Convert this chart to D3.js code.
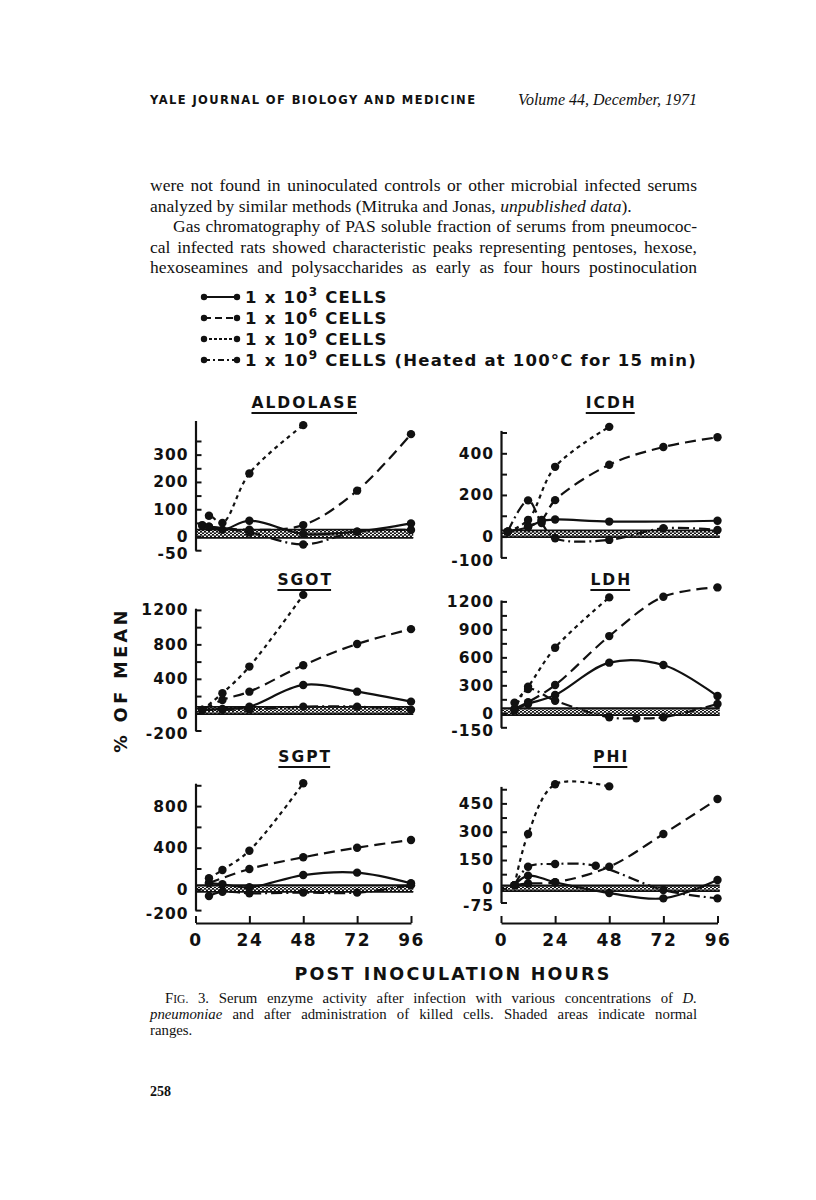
<!DOCTYPE html>
<html>
<head>
<meta charset="utf-8">
<title>Serum enzyme activity</title>
<script src="https://cdn.jsdelivr.net/npm/d3@7/dist/d3.min.js"></script>
<style>
  body { margin: 0; background: #fff; }
  svg { display: block; }
</style>
</head>
<body>
<div id="page"></div>
<script>
// ---- page text ----
const headerLeft = "YALE JOURNAL OF BIOLOGY AND MEDICINE";
const headerRight = "Volume 44, December, 1971";
const bodyLines = [
    "were not found in uninoculated controls or other microbial infected serums",
    "analyzed by similar methods (Mitruka and Jonas, *unpublished data*).",
    "Gas chromatography of PAS soluble fraction of serums from pneumococ-",
    "cal infected rats showed characteristic peaks representing pentoses, hexose,",
    "hexoseamines and polysaccharides as early as four hours postinoculation"
];
const captionLines = [
    "F~IG.~ 3. Serum enzyme activity after infection with various concentrations of *D.*",
    "*pneumoniae* and after administration of killed cells. Shaded areas indicate normal",
    "ranges."
];
const pageNumber = "258";

// ---- legend ----
const seriesKeys = ["c3", "c6", "c9", "heat"];
const legendExponents = ["3", "6", "9", "9"];
const legendNotes = ["", "", "", "(Heated at 100°C for 15 min)"];

// ---- axes ----
const hourTicks = [0, 24, 48, 72, 96];
const xAxisTitle = "POST INOCULATION HOURS";
const yAxisTitle = "% OF MEAN";

// ---- data: [hours, % of mean] ----
const aldolase1e3 = [[3, 42], [12, 25], [24, 58], [48, 10], [72, 18], [96, 48]];
const aldolase1e6 = [[6, 36], [24, 25], [48, 42], [72, 168], [96, 375]];
const aldolase1e9 = [[3, 40], [6, 76], [12, 50], [24, 231], [48, 408]];
const aldolaseHeat = [[6, 36], [24, 15], [48, -29], [72, 18], [96, 24]];
const aldolaseNormal = [-5, 25];

const icdh1e3 = [[3, 24], [12, 45], [18, 75], [24, 82], [48, 72], [96, 76]];
const icdh1e6 = [[3, 24], [12, 50], [18, 80], [24, 175], [48, 345], [72, 430], [96, 477]];
const icdh1e9 = [[3, 24], [12, 80], [24, 335], [48, 527]];
const icdhHeat = [[3, 24], [12, 174], [18, 65], [24, -8], [48, -16], [72, 40], [96, 32]];
const icdhNormal = [-3, 30];

const sgot1e3 = [[3, 40], [12, 50], [24, 77], [48, 329], [72, 251], [96, 135]];
const sgot1e6 = [[3, 40], [12, 155], [24, 251], [48, 558], [72, 805], [96, 977]];
const sgot1e9 = [[3, 40], [12, 232], [24, 542], [48, 1375]];
const sgotHeat = [[3, 40], [12, 40], [24, 45], [48, 77], [72, 77], [96, 40]];
const sgotNormal = [-10, 75];

const ldh1e3 = [[6, 40], [12, 100], [24, 196], [48, 543], [72, 518], [96, 185]];
const ldh1e6 = [[6, 50], [12, 120], [24, 303], [48, 828], [72, 1250], [96, 1350]];
const ldh1e9 = [[6, 114], [12, 285], [24, 703], [48, 1243]];
const ldhHeat = [[6, 30], [12, 260], [24, 135], [48, -43], [60, -54], [72, -43], [96, 100]];
const ldhNormal = [-20, 55];

const sgpt1e3 = [[6, 60], [12, 48], [24, 20], [48, 137], [72, 160], [96, 58]];
const sgpt1e6 = [[6, 60], [24, 195], [48, 308], [72, 400], [96, 474]];
const sgpt1e9 = [[6, 106], [12, 186], [24, 371], [48, 1019]];
const sgptHeat = [[6, -64], [12, -23], [24, -38], [48, -32], [72, -32], [96, 40]];
const sgptNormal = [-25, 40];

const phi1e3 = [[6, 17], [12, 67], [24, 32], [48, -25], [72, -53], [96, 44]];
const phi1e6 = [[6, 17], [12, 26], [24, 32], [48, 114], [72, 288], [96, 473]];
const phi1e9 = [[6, 17], [12, 288], [24, 551], [48, 540]];
const phiHeat = [[6, 17], [12, 114], [24, 129], [42, 120], [72, -9], [96, -53]];
const phiNormal = [-15, 15];

// ---- layout ----
const W = 816, H = 1200;
const ink = "#111";
const serif = "'Liberation Serif', 'DejaVu Serif', serif";
const sans = "'DejaVu Sans', 'Liberation Sans', sans-serif";
const colRange = [[195.5, 411], [501, 717.5]];   // pixel of 0 h and 96 h
const xAxisY = 923;
const dashes = { c3: null, c6: "11,6", c9: "4,4", heat: "11,4,2,4" };
const legendDashes = { c3: null, c6: "7,4", c9: "3,2", heat: "6,3,2,3" };

const panels = [
    { title: "ALDOLASE", col: 0, dom: [-50, 425], px: [550.2, 420.5], step: 50, top: 350,
      labels: [300, 200, 100, 0, -50], band: aldolaseNormal, titleY: 408,
      series: { c3: aldolase1e3, c6: aldolase1e6, c9: aldolase1e9, heat: aldolaseHeat } },
    { title: "ICDH", col: 1, dom: [-100, 510], px: [557.4, 430.4], step: 100, top: 500,
      labels: [400, 200, 0, -100], band: icdhNormal, titleY: 408,
      series: { c3: icdh1e3, c6: icdh1e6, c9: icdh1e9, heat: icdhHeat } },
    { title: "SGOT", col: 0, dom: [-200, 1220], px: [730.5, 608.2], step: 200, top: 1200,
      labels: [1200, 800, 400, 0, -200], band: sgotNormal, titleY: 585,
      series: { c3: sgot1e3, c6: sgot1e6, c9: sgot1e9, heat: sgotHeat } },
    { title: "LDH", col: 1, dom: [-150, 1215], px: [727.3, 600], step: 150, top: 1200,
      labels: [1200, 900, 600, 300, 0, -150], band: ldhNormal, titleY: 585,
      series: { c3: ldh1e3, c6: ldh1e6, c9: ldh1e9, heat: ldhHeat } },
    { title: "SGPT", col: 0, dom: [-200, 1020], px: [910.1, 783.2], step: 200, top: 1000,
      labels: [800, 400, 0, -200], band: sgptNormal, titleY: 762, xAxis: true,
      series: { c3: sgpt1e3, c6: sgpt1e6, c9: sgpt1e9, heat: sgptHeat } },
    { title: "PHI", col: 1, dom: [-75, 540], px: [902.5, 786.4], step: 75, top: 525,
      labels: [450, 300, 150, 0, -75], band: phiNormal, titleY: 762, xAxis: true,
      series: { c3: phi1e3, c6: phi1e6, c9: phi1e9, heat: phiHeat } }
];

const svg = d3.select("#page").append("svg")
    .attr("width", W)
    .attr("height", H);

svg.append("rect").attr("width", W).attr("height", H).attr("fill", "#fff");

// stipple pattern for the normal ranges
const pat = svg.append("defs").append("pattern")
    .attr("id", "stipple")
    .attr("width", 4).attr("height", 3)
    .attr("patternUnits", "userSpaceOnUse");
pat.append("rect").attr("width", 4).attr("height", 3).attr("fill", "#fff");
pat.append("circle").attr("cx", 1).attr("cy", 0.8).attr("r", 1.1).attr("fill", ink);
pat.append("circle").attr("cx", 3).attr("cy", 2.3).attr("r", 1.1).attr("fill", ink);

// ---- running text ----
function parseWords(line) {
    let italic = false, small = false;
    return line.split(" ").filter(w => w.length).map(w => {
        const segs = [];
        let cur = "";
        for (const ch of w) {
            if (ch === "*" || ch === "~") {
                if (cur) segs.push({ t: cur, italic, small });
                cur = "";
                if (ch === "*") italic = !italic; else small = !small;
            } else {
                cur += ch;
            }
        }
        if (cur) segs.push({ t: cur, italic, small });
        return segs;
    });
}

function textLine(line, x0, x1, y, size, justify) {
    const words = parseWords(line);
    const g = svg.append("g")
        .attr("font-family", serif)
        .attr("font-size", size)
        .attr("fill", ink);
    const nodes = words.map(segs => {
        const t = g.append("text").attr("y", y);
        segs.forEach(s => {
            t.append("tspan")
                .attr("font-style", s.italic ? "italic" : null)
                .attr("font-size", s.small ? size * 0.78 : null)
                .text(s.t);
        });
        return t;
    });
    const widths = nodes.map(n => n.node().getComputedTextLength());
    const gap = justify ? (x1 - x0 - d3.sum(widths)) / (words.length - 1) : size * 0.26;
    let x = x0;
    nodes.forEach((n, i) => {
        n.attr("x", x);
        x += widths[i] + gap;
    });
}

svg.append("text")
    .attr("x", 150).attr("y", 104)
    .attr("font-family", sans).attr("font-weight", "bold")
    .attr("font-size", 11.5).attr("fill", ink)
    .attr("textLength", 325).attr("lengthAdjust", "spacing")
    .text(headerLeft);

svg.append("text")
    .attr("x", 697).attr("y", 105)
    .attr("text-anchor", "end")
    .attr("font-family", serif).attr("font-style", "italic")
    .attr("font-size", 16).attr("fill", ink)
    .text(headerRight);

bodyLines.forEach((line, i) => {
    textLine(line, i === 2 ? 173 : 150, 697, 191 + i * 20.5, 17.5, i !== 1);
});

captionLines.forEach((line, i) => {
    textLine(line, i === 0 ? 165 : 150, 697, 1003 + i * 16, 14.8, i < 2);
});

svg.append("text")
    .attr("x", 150).attr("y", 1096)
    .attr("font-family", serif).attr("font-weight", "bold")
    .attr("font-size", 14).attr("fill", ink)
    .text(pageNumber);

// ---- legend ----
const legendY = [297, 318, 339, 360];
const legendTexts = [];
seriesKeys.forEach((k, i) => {
    const y = legendY[i];
    svg.append("line")
        .attr("x1", 204).attr("x2", 237).attr("y1", y).attr("y2", y)
        .attr("stroke", ink).attr("stroke-width", 2)
        .attr("stroke-dasharray", legendDashes[k]);
    [204, 237].forEach(cx => svg.append("circle")
        .attr("cx", cx).attr("cy", y).attr("r", 3.2).attr("fill", ink));
    const t = svg.append("text")
        .attr("x", 245).attr("y", y + 6)
        .attr("font-family", sans).attr("font-weight", "bold")
        .attr("font-size", 16.5).attr("fill", ink);
    t.append("tspan").text("1 x 10");
    t.append("tspan").attr("font-size", 12).attr("dy", -7).text(legendExponents[i]);
    t.append("tspan").attr("dy", 7).text(" CELLS" + (legendNotes[i] ? " " + legendNotes[i] : ""));
    legendTexts.push(t);
});
// stretch letter spacing so the longest line ends at the text margin
{
    const longest = legendTexts[3];
    const natural = longest.node().getComputedTextLength();
    const chars = longest.text().length;
    const ls = Math.max(0, (697 - 245 - natural) / chars);
    legendTexts.forEach(t => t.attr("letter-spacing", ls));
}

// ---- panels ----
panels.forEach(p => {
    const xs = d3.scaleLinear().domain([0, 96]).range(colRange[p.col]);
    const ys = d3.scaleLinear().domain(p.dom).range(p.px);
    const g = svg.append("g");

    // normal range
    g.append("rect")
        .attr("x", xs(0)).attr("width", xs(97) - xs(0))
        .attr("y", ys(p.band[1])).attr("height", ys(p.band[0]) - ys(p.band[1]))
        .attr("fill", "url(#stipple)");
    p.band.forEach(v => g.append("line")
        .attr("x1", xs(0)).attr("x2", xs(97))
        .attr("y1", ys(v)).attr("y2", ys(v))
        .attr("stroke", ink).attr("stroke-width", 1.8));

    // y axis
    const ticks = d3.range(p.dom[0], p.top + 1, p.step);
    const yAxis = d3.axisLeft(ys)
        .tickValues(ticks)
        .tickSizeInner(-6)
        .tickSizeOuter(0)
        .tickPadding(7)
        .tickFormat(d => p.labels.includes(d) ? d : "");
    const ya = g.append("g")
        .attr("transform", `translate(${xs(0)},0)`)
        .call(yAxis);
    ya.select(".domain").attr("stroke", ink).attr("stroke-width", 2.2);
    ya.selectAll(".tick line").attr("stroke", ink).attr("stroke-width", 2);
    ya.selectAll(".tick text")
        .attr("fill", ink)
        .style("font-family", sans).style("font-weight", "bold")
        .style("font-size", "15.5px").style("letter-spacing", "1px");
    // the lowest label sits just under the zero label, as printed
    ya.selectAll(".tick text").filter(d => d === p.dom[0]).attr("y", 3);

    // series
    const line = d3.line()
        .x(d => xs(d[0]))
        .y(d => ys(d[1]))
        .curve(d3.curveCatmullRom.alpha(0.5));
    seriesKeys.forEach(k => {
        const data = p.series[k];
        g.append("path")
            .datum(data)
            .attr("d", line)
            .attr("fill", "none")
            .attr("stroke", ink)
            .attr("stroke-width", 2.2)
            .attr("stroke-dasharray", dashes[k]);
        g.selectAll(null)
            .data(data)
            .enter()
            .append("circle")
            .attr("cx", d => xs(d[0]))
            .attr("cy", d => ys(d[1]))
            .attr("r", 4.2)
            .attr("fill", ink);
    });

    // title
    const tt = g.append("text")
        .attr("x", (xs(0) + xs(96)) / 2 + 2)
        .attr("y", p.titleY)
        .attr("text-anchor", "middle")
        .attr("font-family", sans).attr("font-weight", "bold")
        .attr("font-size", 15.5).attr("letter-spacing", 2)
        .attr("fill", ink)
        .text(p.title);
    const bb = tt.node().getBBox();
    g.append("line")
        .attr("x1", bb.x).attr("x2", bb.x + bb.width - 2)
        .attr("y1", p.titleY + 5).attr("y2", p.titleY + 5)
        .attr("stroke", ink).attr("stroke-width", 1.8);

    // x axis under the bottom row
    if (p.xAxis) {
        const xAxis = d3.axisBottom(xs)
            .tickValues(hourTicks)
            .tickSizeInner(-7)
            .tickSizeOuter(0)
            .tickPadding(11);
        const xa = g.append("g")
            .attr("transform", `translate(0,${xAxisY})`)
            .call(xAxis);
        xa.select(".domain").attr("stroke", ink).attr("stroke-width", 2);
        xa.selectAll(".tick line").attr("stroke", ink).attr("stroke-width", 2);
        xa.selectAll(".tick text")
            .attr("fill", ink)
            .style("font-family", sans).style("font-weight", "bold")
            .style("font-size", "17px").style("letter-spacing", "1.5px");
    }
});

// ---- shared axis titles ----
svg.append("text")
    .attr("transform", "translate(127,680) rotate(-90)")
    .attr("text-anchor", "middle")
    .attr("font-family", sans).attr("font-weight", "bold")
    .attr("font-size", 17.5).attr("letter-spacing", 3.5)
    .attr("fill", ink)
    .text(yAxisTitle);

svg.append("text")
    .attr("x", 453).attr("y", 980)
    .attr("text-anchor", "middle")
    .attr("font-family", sans).attr("font-weight", "bold")
    .attr("font-size", 17.5).attr("letter-spacing", 2.2)
    .attr("fill", ink)
    .text(xAxisTitle);
</script>
</body>
</html>
